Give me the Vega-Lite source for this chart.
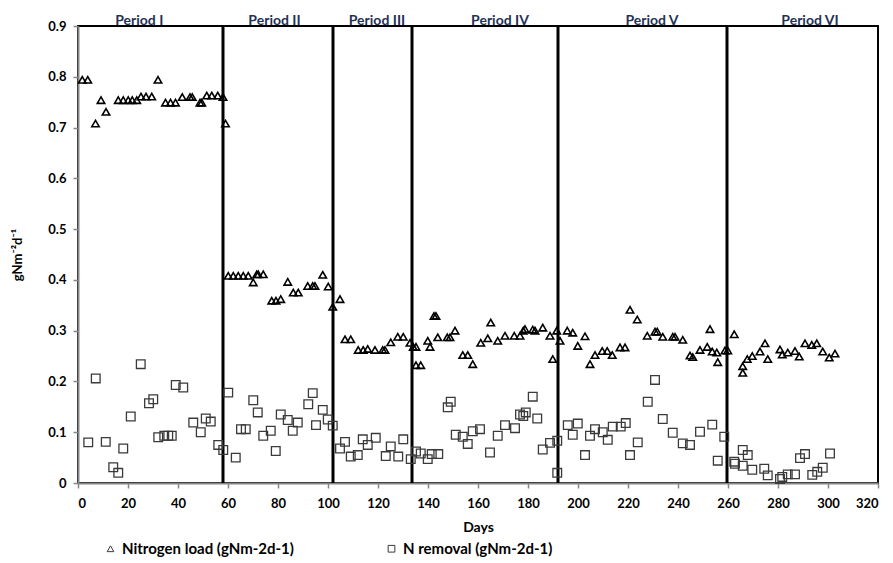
{
  "$schema": "https://vega.github.io/schema/vega-lite/v6.json",
  "width": 800,
  "height": 457,
  "autosize": {"type": "none"},
  "padding": {"left": 78, "top": 26, "right": 15, "bottom": 80},
  "background": "white",
  "config": {
    "view": {"stroke": "#000", "strokeWidth": 2},
    "font": "Lato, sans-serif",
    "axis": {
      "grid": false,
      "domainColor": "#868686",
      "domainWidth": 2,
      "tickColor": "#868686",
      "tickWidth": 1.5,
      "tickSize": 5,
      "labelFont": "Lato, sans-serif",
      "labelFontSize": 13,
      "labelFontWeight": "bold",
      "labelColor": "#000",
      "titleFont": "Lato, sans-serif",
      "titleFontSize": 14,
      "titleFontWeight": "bold",
      "titleColor": "#000"
    }
  },
  "datasets": {
    "load": [
      {"day":1.7,"value":0.794},{"day":3.9,"value":0.794},{"day":7,"value":0.708},{"day":9.2,"value":0.754},{"day":11.2,"value":0.731},{"day":16.1,"value":0.754},{"day":18.1,"value":0.754},{"day":20.1,"value":0.754},{"day":21.7,"value":0.754},{"day":23.5,"value":0.754},{"day":25.2,"value":0.761},{"day":27.2,"value":0.761},{"day":29.5,"value":0.761},{"day":32,"value":0.794},{"day":35,"value":0.749},{"day":37,"value":0.749},{"day":39,"value":0.749},{"day":41.7,"value":0.76},{"day":44.8,"value":0.76},{"day":45.7,"value":0.76},{"day":48.8,"value":0.749},{"day":49.5,"value":0.749},{"day":51.5,"value":0.763},{"day":53.5,"value":0.763},{"day":55.9,"value":0.763},{"day":58,"value":0.76},{"day":59,"value":0.708},
      {"day":60.1,"value":0.408},{"day":62.1,"value":0.408},{"day":64.1,"value":0.408},{"day":66.1,"value":0.408},{"day":68.1,"value":0.408},{"day":70.1,"value":0.395},{"day":71.5,"value":0.411},{"day":72.1,"value":0.411},{"day":74.1,"value":0.411},{"day":77.5,"value":0.359},{"day":79.2,"value":0.359},{"day":81.1,"value":0.362},{"day":83.9,"value":0.396},{"day":86.1,"value":0.375},{"day":88.1,"value":0.375},{"day":91.9,"value":0.388},{"day":93.9,"value":0.388},{"day":94.8,"value":0.388},{"day":97.9,"value":0.41},{"day":100.1,"value":0.387},{"day":101.9,"value":0.347},{"day":104.8,"value":0.362},
      {"day":106.8,"value":0.283},{"day":109.1,"value":0.283},{"day":112.1,"value":0.262},{"day":114.1,"value":0.262},{"day":115.9,"value":0.264},{"day":118.8,"value":0.262},{"day":121.9,"value":0.262},{"day":122.8,"value":0.262},{"day":125.1,"value":0.277},{"day":127.9,"value":0.288},{"day":130.1,"value":0.288},{"day":132.8,"value":0.276},{"day":134.1,"value":0.268},{"day":135.2,"value":0.268},{"day":135.2,"value":0.232},{"day":137.1,"value":0.232},
      {"day":139.9,"value":0.28},{"day":140.8,"value":0.268},{"day":142.4,"value":0.329},{"day":143.2,"value":0.329},{"day":143.9,"value":0.287},{"day":147.7,"value":0.287},{"day":148.8,"value":0.287},{"day":150.8,"value":0.3},{"day":153.9,"value":0.252},{"day":155.9,"value":0.252},{"day":157.9,"value":0.234},{"day":161.1,"value":0.276},{"day":163.9,"value":0.285},{"day":165.1,"value":0.316},{"day":167.9,"value":0.28},{"day":170.8,"value":0.29},{"day":174.5,"value":0.29},{"day":176.8,"value":0.29},{"day":178.1,"value":0.3},{"day":178.8,"value":0.303},{"day":181.9,"value":0.302},{"day":182.8,"value":0.3},{"day":185.9,"value":0.306},{"day":188.8,"value":0.29},{"day":189.9,"value":0.244},{"day":191.5,"value":0.3},
      {"day":192.8,"value":0.28},{"day":195.7,"value":0.3},{"day":197.9,"value":0.296},{"day":199.9,"value":0.27},{"day":202.8,"value":0.289},{"day":204.8,"value":0.234},{"day":206.8,"value":0.252},{"day":209.7,"value":0.26},{"day":211.7,"value":0.26},{"day":213.7,"value":0.252},{"day":216.8,"value":0.267},{"day":218.8,"value":0.267},{"day":220.8,"value":0.341},{"day":223.7,"value":0.322},{"day":227.7,"value":0.29},{"day":230.8,"value":0.298},{"day":231.7,"value":0.298},{"day":233.9,"value":0.288},{"day":237.9,"value":0.288},{"day":238.8,"value":0.288},{"day":241.9,"value":0.282},{"day":244.8,"value":0.251},{"day":245.9,"value":0.248},{"day":248.8,"value":0.262},{"day":251.7,"value":0.268},{"day":252.8,"value":0.303},{"day":253.7,"value":0.259},{"day":255.5,"value":0.257},{"day":255.9,"value":0.238},{"day":258.8,"value":0.261},{"day":259.9,"value":0.261},{"day":262.5,"value":0.293},
      {"day":265.9,"value":0.23},{"day":265.9,"value":0.217},{"day":267.7,"value":0.244},{"day":269.7,"value":0.25},{"day":272.8,"value":0.259},{"day":274.8,"value":0.275},{"day":275.9,"value":0.244},{"day":280.8,"value":0.263},{"day":281.7,"value":0.253},{"day":283.9,"value":0.257},{"day":286.8,"value":0.26},{"day":288.5,"value":0.249},{"day":290.8,"value":0.275},{"day":293.5,"value":0.272},{"day":295.5,"value":0.275},{"day":297.9,"value":0.259},{"day":300.5,"value":0.247},{"day":302.8,"value":0.255}
    ],
    "removal": [
      {"day":4.1,"value":0.08},{"day":7.1,"value":0.206},{"day":11.1,"value":0.081},{"day":14.1,"value":0.031},{"day":16.1,"value":0.02},{"day":18.1,"value":0.068},{"day":21.1,"value":0.131},{"day":25.1,"value":0.234},{"day":28.4,"value":0.157},{"day":30.1,"value":0.165},{"day":32.1,"value":0.09},{"day":34.5,"value":0.093},{"day":36.1,"value":0.093},{"day":37.5,"value":0.093},{"day":39.1,"value":0.193},{"day":42.1,"value":0.188},{"day":46.1,"value":0.119},{"day":49.1,"value":0.1},{"day":51.1,"value":0.127},{"day":53.1,"value":0.121},{"day":56.1,"value":0.075},{"day":58.1,"value":0.065},
      {"day":60.1,"value":0.178},{"day":63.1,"value":0.05},{"day":65.2,"value":0.106},{"day":67.1,"value":0.106},{"day":70.1,"value":0.163},{"day":71.9,"value":0.139},{"day":74.1,"value":0.093},{"day":77.1,"value":0.103},{"day":79.1,"value":0.063},{"day":81.1,"value":0.135},{"day":83.9,"value":0.124},{"day":85.9,"value":0.103},{"day":87.9,"value":0.119},{"day":92.1,"value":0.155},{"day":93.9,"value":0.177},{"day":95.2,"value":0.114},{"day":97.9,"value":0.144},{"day":99.9,"value":0.125},{"day":101.9,"value":0.113},
      {"day":104.8,"value":0.068},{"day":106.8,"value":0.081},{"day":109.1,"value":0.052},{"day":111.9,"value":0.055},{"day":113.9,"value":0.086},{"day":115.9,"value":0.075},{"day":119.1,"value":0.089},{"day":123.1,"value":0.053},{"day":125.1,"value":0.072},{"day":128.1,"value":0.052},{"day":130.1,"value":0.086},{"day":133.1,"value":0.047},
      {"day":135.2,"value":0.062},{"day":137.1,"value":0.058},{"day":139.9,"value":0.047},{"day":141.5,"value":0.057},{"day":144.1,"value":0.057},{"day":147.9,"value":0.149},{"day":149.1,"value":0.16},{"day":151.1,"value":0.095},{"day":153.9,"value":0.091},{"day":155.9,"value":0.077},{"day":157.9,"value":0.102},{"day":160.8,"value":0.106},{"day":164.8,"value":0.06},{"day":167.9,"value":0.093},{"day":170.8,"value":0.114},{"day":174.8,"value":0.108},{"day":176.8,"value":0.135},{"day":178.1,"value":0.132},{"day":179.1,"value":0.139},{"day":181.9,"value":0.17},{"day":183.7,"value":0.127},{"day":185.9,"value":0.066},{"day":188.8,"value":0.079},{"day":191.7,"value":0.083},{"day":191.7,"value":0.02},
      {"day":195.9,"value":0.114},{"day":197.9,"value":0.095},{"day":199.9,"value":0.117},{"day":202.8,"value":0.055},{"day":204.8,"value":0.093},{"day":206.8,"value":0.106},{"day":209.9,"value":0.1},{"day":211.9,"value":0.085},{"day":213.9,"value":0.111},{"day":217.1,"value":0.111},{"day":219.1,"value":0.118},{"day":220.8,"value":0.055},{"day":223.9,"value":0.08},{"day":227.9,"value":0.16},{"day":230.8,"value":0.203},{"day":233.9,"value":0.126},{"day":237.9,"value":0.099},{"day":241.9,"value":0.078},{"day":244.8,"value":0.075},{"day":248.8,"value":0.101},{"day":253.7,"value":0.115},{"day":255.9,"value":0.044},{"day":258.5,"value":0.091},
      {"day":262.5,"value":0.042},{"day":262.8,"value":0.038},{"day":265.9,"value":0.065},{"day":267.9,"value":0.055},{"day":265.9,"value":0.034},{"day":269.7,"value":0.026},{"day":274.5,"value":0.028},{"day":275.9,"value":0.015},{"day":280.8,"value":0.008},{"day":281.7,"value":0.012},{"day":283.9,"value":0.017},{"day":286.8,"value":0.017},{"day":288.8,"value":0.049},{"day":290.8,"value":0.057},{"day":293.7,"value":0.016},{"day":295.7,"value":0.022},{"day":297.9,"value":0.03},{"day":300.8,"value":0.058}
    ],
    "periods": [
      {"boundary":58},{"boundary":102},{"boundary":133.6},{"boundary":192},{"boundary":259.6}
    ],
    "labels": [
      {"period":"Period I","mid":24.5},{"period":"Period II","mid":78.6},{"period":"Period III","mid":119.6},{"period":"Period IV","mid":168.8},{"period":"Period V","mid":229.6},{"period":"Period VI","mid":292.8}
    ]
  },
  "encoding": {
    "x": {
      "type": "quantitative",
      "scale": {"domain": [0, 320], "nice": false},
      "axis": {"title": "Days", "values": [0,20,40,60,80,100,120,140,160,180,200,220,240,260,280,300,320], "format": "d", "labelPadding": 9, "titlePadding": 10}
    },
    "y": {
      "type": "quantitative",
      "scale": {"domain": [0, 0.9], "nice": false},
      "axis": {"title": "gNm⁻²d⁻¹", "values": [0,0.1,0.2,0.3,0.4,0.5,0.6,0.7,0.8,0.9], "format": ".1~f", "labelPadding": 7, "titlePadding": 23, "titleFontSize": 13}
    }
  },
  "layer": [
    {
      "data": {"name": "periods"},
      "mark": {"type": "rule", "color": "#000", "strokeWidth": 3},
      "encoding": {"x": {"field": "boundary", "type": "quantitative"}}
    },
    {
      "data": {"name": "labels"},
      "mark": {"type": "text", "font": "Lato, sans-serif", "fontSize": 14, "fontWeight": "bold", "color": "#1f3256", "baseline": "alphabetic", "dy": -1},
      "encoding": {
        "x": {"field": "mid", "type": "quantitative"},
        "y": {"datum": 0.9, "type": "quantitative"},
        "text": {"field": "period"}
      }
    },
    {
      "data": {"name": "removal"},
      "mark": {"type": "point", "filled": false, "stroke": "#3a3a3a", "strokeWidth": 1.3, "size": 75, "opacity": 1},
      "encoding": {
        "x": {"field": "day", "type": "quantitative"},
        "y": {"field": "value", "type": "quantitative"},
        "shape": {"datum": "N removal (gNm-2d-1)"}
      }
    },
    {
      "data": {"name": "load"},
      "mark": {"type": "point", "filled": false, "stroke": "#000", "strokeWidth": 1.6, "size": 55, "opacity": 1},
      "encoding": {
        "x": {"field": "day", "type": "quantitative"},
        "y": {"field": "value", "type": "quantitative"},
        "shape": {
          "datum": "Nitrogen load (gNm-2d-1)",
          "scale": {"domain": ["Nitrogen load (gNm-2d-1)", "N removal (gNm-2d-1)"], "range": ["triangle-up", "square"]},
          "legend": {
            "title": null,
            "orient": "none",
            "legendX": 25,
            "legendY": 515,
            "direction": "horizontal",
            "columnPadding": 90,
            "symbolSize": 45,
            "symbolStrokeColor": "#000",
            "symbolStrokeWidth": 1,
            "symbolFillColor": "white",
            "labelFont": "Lato, sans-serif",
            "labelFontSize": 15,
            "labelFontWeight": "bold",
            "labelColor": "#000",
            "labelOffset": 4,
            "labelLimit": 400
          }
        }
      }
    }
  ]
}
